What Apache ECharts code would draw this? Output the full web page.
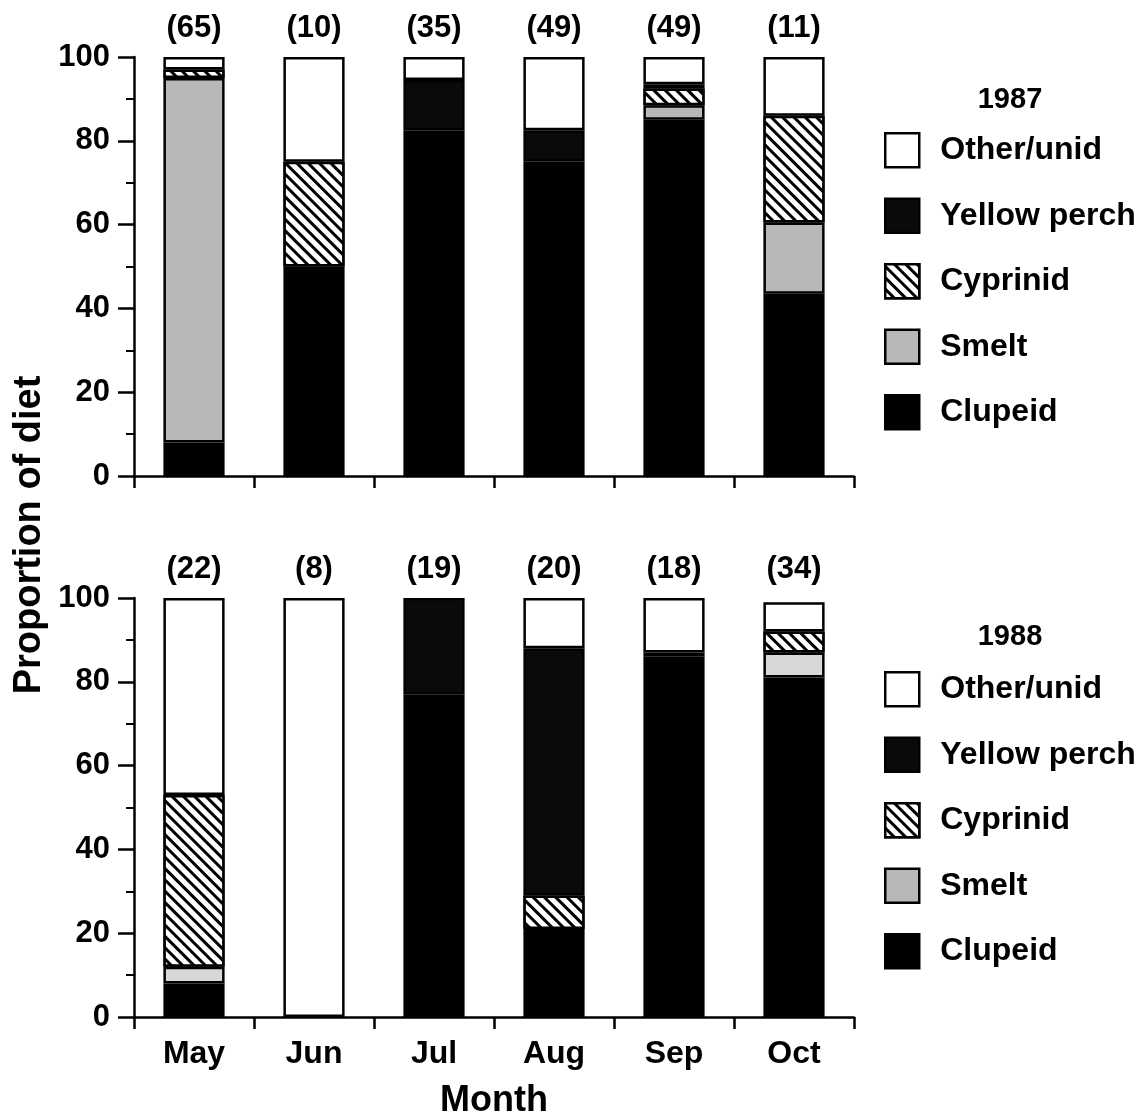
<!DOCTYPE html>
<html>
<head>
<meta charset="utf-8">
<script src="https://cdn.jsdelivr.net/npm/echarts@6/dist/echarts.min.js"></script>
<style>html,body{margin:0;padding:0;background:#fff}#c{width:1145px;height:1119px}</style>
</head>
<body>
<div id="c"></div>
<script>
// ---- data ----
var months = ['May', 'Jun', 'Jul', 'Aug', 'Sep', 'Oct'];
var yTicks = [0, 20, 40, 60, 80, 100];
var n1987 = [65, 10, 35, 49, 49, 11];
var n1988 = [22, 8, 19, 20, 18, 34];

var clupeid1987  = [8, 50, 82.5, 75, 85, 43.5];
var smelt1987    = [87, 0, 0, 0, 3.5, 17];
var cyprinid1987 = [2, 25, 0, 0, 4, 25.5];
var perch1987    = [0, 0, 12, 7.5, 1, 0];
var other1987    = [3, 25, 5.5, 17.5, 6.5, 14];

var clupeid1988  = [8, 0, 77, 21, 86, 81];
var smelt1988    = [4, 0, 0, 0, 0, 6];
var cyprinid1988 = [41, 0, 0, 8, 0, 5];
var perch1988    = [0, 0, 23, 59, 1, 0];
var other1988    = [47, 100, 0, 12, 13, 7];

var legendNames = ['Other/unid', 'Yellow perch', 'Cyprinid', 'Smelt', 'Clupeid'];

// ---- styling ----
var FONT = 'Liberation Sans';
var BW = 2.5;
var hatch = {
  symbol: 'rect', symbolSize: 1,
  dashArrayX: [1, 0], dashArrayY: [2.6, 5],
  rotation: Math.PI / 4, color: '#000', backgroundColor: '#fff'
};
function clean(arr) { return arr.map(function (v) { return v === 0 ? '-' : v; }); }

function makeSeries(idx, stack, clu, sme, cyp, per, oth, smeltColor) {
  var base = { type: 'bar', stack: stack, xAxisIndex: idx * 2, yAxisIndex: idx, barWidth: '51%', animation: false };
  function s(name, data, style) {
    return Object.assign({}, base, {
      name: name, data: clean(data),
      itemStyle: Object.assign({ borderColor: '#000', borderWidth: BW }, style)
    });
  }
  return [
    s('Clupeid', clu, { color: '#000' }),
    s('Smelt', sme, { color: smeltColor }),
    s('Cyprinid', cyp, { color: '#fff', decal: hatch }),
    s('Yellow perch', per, { color: '#0a0a0a' }),
    s('Other/unid', oth, { color: '#fff' })
  ];
}

var axisLineStyle = { color: '#000', width: BW };

function yAxis(gi) {
  return {
    type: 'value', gridIndex: gi, min: 0, max: 100, interval: 20,
    axisLine: { show: true, lineStyle: axisLineStyle },
    axisTick: { show: true, length: 16, lineStyle: axisLineStyle },
    minorTick: { show: true, splitNumber: 2, length: 8, lineStyle: { color: '#000', width: 2 } },
    splitLine: { show: false },
    axisLabel: { margin: 24, color: '#000', fontSize: 31, fontWeight: 'bold', fontFamily: FONT,
      formatter: function (v) { return yTicks.indexOf(v) >= 0 ? String(v) : ''; } }
  };
}
function xAxisBottom(gi, showLabels) {
  var a = {
    type: 'category', gridIndex: gi, data: months, position: 'bottom',
    axisLine: { show: true, lineStyle: axisLineStyle },
    axisTick: { show: true, length: 12, lineStyle: axisLineStyle },
    axisLabel: { show: showLabels, margin: 21, color: '#000', fontSize: 32, fontWeight: 'bold', fontFamily: FONT }
  };
  if (showLabels) {
    a.name = 'Month'; a.nameLocation = 'middle'; a.nameGap = 66;
    a.nameTextStyle = { color: '#000', fontSize: 36, fontWeight: 'bold', fontFamily: FONT };
  }
  return a;
}
function xAxisTop(gi, counts, margin) {
  return {
    type: 'category', gridIndex: gi, data: counts.map(function (c) { return '(' + c + ')'; }), position: 'top',
    axisLine: { show: false }, axisTick: { show: false },
    axisLabel: { margin: margin, color: '#000', fontSize: 31, fontWeight: 'bold', fontFamily: FONT }
  };
}
function legend(top) {
  return {
    orient: 'vertical', left: 879, top: top, data: legendNames,
    itemWidth: 34, itemHeight: 34, itemGap: 29, icon: 'rect',
    selectedMode: false,
    itemStyle: { borderColor: '#000', borderWidth: BW },
    textStyle: { color: '#000', fontSize: 32, lineHeight: 34, fontWeight: 'bold', fontFamily: FONT, padding: [0, 0, 0, 16] }
  };
}

var option = {
  backgroundColor: '#fff',
  animation: false,
  grid: [
    { left: 134, width: 720, top: 57, height: 419, outerBoundsMode: 'none', containLabel: false },
    { left: 134, width: 720, top: 598, height: 419, outerBoundsMode: 'none', containLabel: false }
  ],
  xAxis: [xAxisBottom(0, false), xAxisTop(0, n1987, 13), xAxisBottom(1, true), xAxisTop(1, n1988, 13)],
  yAxis: [yAxis(0), yAxis(1)],
  legend: [legend(127), legend(666)],
  graphic: [
    { type: 'text', x: 1010, y: 100, style: { text: '1987', fill: '#000', font: 'bold 29px ' + FONT, textAlign: 'center', textVerticalAlign: 'middle' } },
    { type: 'text', x: 1010, y: 637, style: { text: '1988', fill: '#000', font: 'bold 29px ' + FONT, textAlign: 'center', textVerticalAlign: 'middle' } },
    { type: 'text', x: 30, y: 535, rotation: Math.PI / 2, style: { text: 'Proportion of diet', fill: '#000', font: 'bold 38px ' + FONT, textAlign: 'center', textVerticalAlign: 'middle' } }
  ],
  series: [].concat(
    makeSeries(0, 'y1987', clupeid1987, smelt1987, cyprinid1987, perch1987, other1987, '#b8b8b8'),
    makeSeries(1, 'y1988', clupeid1988, smelt1988, cyprinid1988, perch1988, other1988, '#d8d8d8')
  )
};
var chart = echarts.init(document.getElementById('c'), null, { renderer: 'canvas' });
chart.setOption(option);
</script>
</body>
</html>
